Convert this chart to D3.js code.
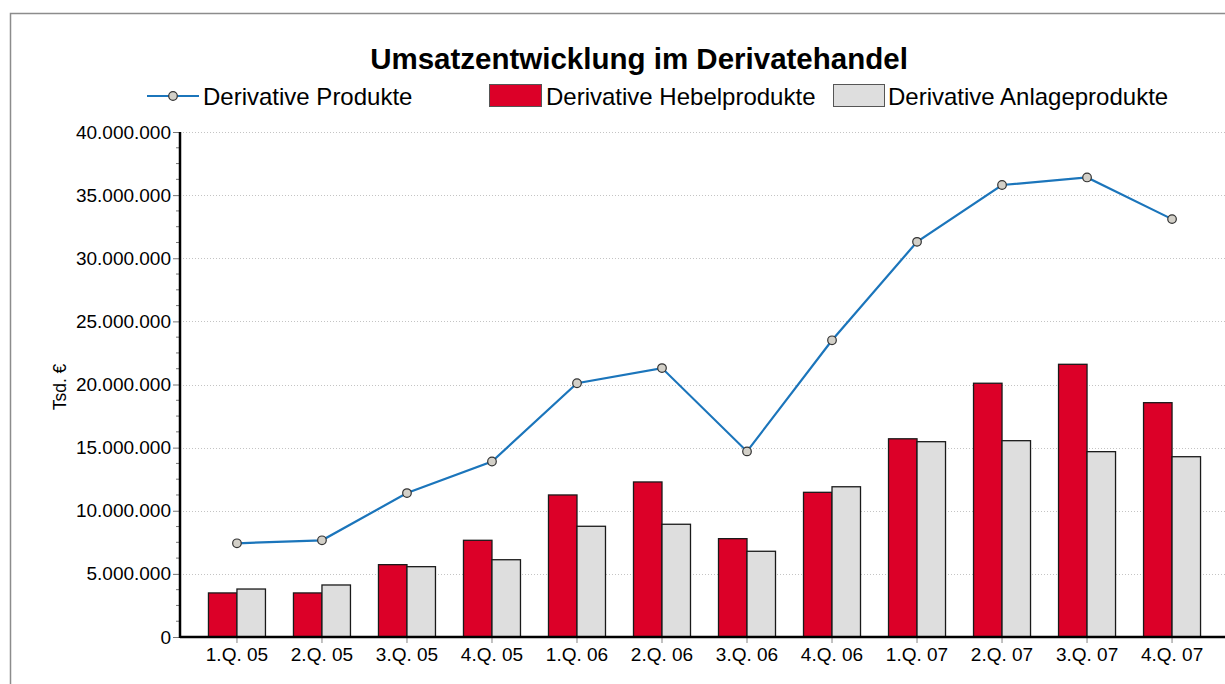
<!DOCTYPE html>
<html>
<head>
<meta charset="utf-8">
<script src="https://cdn.jsdelivr.net/npm/d3@7"></script>
<style>
  body { margin: 0; background: #fff; }
  text { font-family: "Liberation Sans", Arial, sans-serif; fill: #000; }
</style>
</head>
<body>
<svg id="chart" width="1225" height="684"></svg>
<script>
// quarters and values (Tsd. €)
const categories = ["1.Q. 05", "2.Q. 05", "3.Q. 05", "4.Q. 05", "1.Q. 06", "2.Q. 06",
                    "3.Q. 06", "4.Q. 06", "1.Q. 07", "2.Q. 07", "3.Q. 07", "4.Q. 07"];
const produkte = [7420000, 7660000, 11400000, 13900000, 20100000, 21300000,
                  14700000, 23500000, 31300000, 35800000, 36400000, 33100000];
const hebel = [3490000, 3490000, 5730000, 7660000, 11250000, 12280000,
               7790000, 11460000, 15700000, 20100000, 21600000, 18560000];
const anlage = [3800000, 4120000, 5570000, 6120000, 8770000, 8930000,
                6790000, 11900000, 15470000, 15550000, 14680000, 14280000];
const yTicks = [0, 5000000, 10000000, 15000000, 20000000, 25000000, 30000000, 35000000, 40000000];
const seriesNames = ["Derivative Produkte", "Derivative Hebelprodukte", "Derivative Anlageprodukte"];

const RED = "#dc0028";
const GREY = "#dedede";
const BLUE = "#1b75bb";

const svg = d3.select("#chart");
const de = d3.formatLocale({decimal: ",", thousands: ".", grouping: [3], currency: ["", "€"]});
const fmt = de.format(",.0f");

// frame
svg.append("rect")
    .attr("x", 10.5).attr("y", 13.5)
    .attr("width", 1300).attr("height", 800)
    .attr("fill", "none").attr("stroke", "#8c8c8c").attr("stroke-width", 1.5);

const plotLeft = 180, plotBottom = 637, plotTop = 132;

const y = d3.scaleLinear().domain([0, 40000000]).range([plotBottom, plotTop]);
const x = d3.scaleBand().domain(categories).range([plotLeft, 1229])
    .paddingInner(0).paddingOuter(0.17);
const xs = d3.scaleBand().domain(["hebel", "anlage"]).range([0, 57]);
const off = (x.bandwidth() - 57) / 2;

// gridlines
svg.append("g").selectAll("line")
    .data(yTicks.filter(d => d > 0))
    .join("line")
    .attr("x1", plotLeft).attr("x2", 1225)
    .attr("y1", d => Math.round(y(d)) + 0.5).attr("y2", d => Math.round(y(d)) + 0.5)
    .attr("stroke", "#c4c4c4").attr("stroke-width", 1).attr("stroke-dasharray", "1,2");

// minor ticks
const minor = d3.range(0, 40000001, 1250000).filter(d => d % 5000000 !== 0);
svg.append("g").selectAll("line")
    .data(minor)
    .join("line")
    .attr("x1", plotLeft - 4).attr("x2", plotLeft)
    .attr("y1", d => y(d)).attr("y2", d => y(d))
    .attr("stroke", "#777").attr("stroke-width", 1);

// y axis
const yAxis = svg.append("g")
    .attr("transform", "translate(" + plotLeft + ",0)")
    .call(d3.axisLeft(y).tickValues(yTicks).tickFormat(fmt).tickSize(7).tickPadding(2));
yAxis.select(".domain").remove();
yAxis.selectAll(".tick line").attr("stroke", "#777");
yAxis.selectAll(".tick text").style("font-size", "19px").attr("fill", "#000");

svg.append("text")
    .attr("transform", "translate(66," + 387 + ") rotate(-90)")
    .attr("text-anchor", "middle")
    .style("font-size", "17.5px")
    .text("Tsd. €");

// bars
const groups = svg.append("g").selectAll("g")
    .data(categories)
    .join("g")
    .attr("transform", d => "translate(" + (x(d) + off) + ",0)");

groups.append("rect")
    .attr("x", xs("hebel"))
    .attr("y", (d, i) => y(hebel[i]))
    .attr("width", xs.bandwidth())
    .attr("height", (d, i) => plotBottom - y(hebel[i]))
    .attr("fill", RED).attr("stroke", "#1a1a1a").attr("stroke-width", 1.3);

groups.append("rect")
    .attr("x", xs("anlage"))
    .attr("y", (d, i) => y(anlage[i]))
    .attr("width", xs.bandwidth())
    .attr("height", (d, i) => plotBottom - y(anlage[i]))
    .attr("fill", GREY).attr("stroke", "#1a1a1a").attr("stroke-width", 1.3);

// axes lines
const xAxis = svg.append("g")
    .attr("transform", "translate(0," + plotBottom + ")")
    .call(d3.axisBottom(x).tickSize(6).tickPadding(5));
xAxis.select(".domain").remove();
xAxis.selectAll(".tick line").attr("stroke", "#999").attr("stroke-width", 1.2);
xAxis.selectAll(".tick text").style("font-size", "19px").attr("fill", "#000");

svg.append("line").attr("x1", plotLeft).attr("x2", 1225).attr("y1", plotBottom).attr("y2", plotBottom)
    .attr("stroke", "#000").attr("stroke-width", 2.5);
svg.append("line").attr("x1", plotLeft).attr("x2", plotLeft).attr("y1", plotTop).attr("y2", plotBottom + 1)
    .attr("stroke", "#000").attr("stroke-width", 2.5);

// line series
const cx = d => x(d) + x.bandwidth() / 2;
const line = d3.line().x(d => cx(d)).y((d, i) => y(produkte[i]));
svg.append("path")
    .datum(categories)
    .attr("d", line)
    .attr("fill", "none").attr("stroke", BLUE).attr("stroke-width", 2.2);
svg.append("g").selectAll("circle")
    .data(categories)
    .join("circle")
    .attr("cx", cx).attr("cy", (d, i) => y(produkte[i]))
    .attr("r", 4.3)
    .attr("fill", "#d3d0c8").attr("stroke", "#333").attr("stroke-width", 1.2);

// title
svg.append("text")
    .attr("x", 639).attr("y", 69)
    .attr("text-anchor", "middle")
    .style("font-size", "29.5px").style("font-weight", "bold")
    .text("Umsatzentwicklung im Derivatehandel");

// legend
const lg = svg.append("g").style("font-size", "24px");
lg.append("line").attr("x1", 147).attr("x2", 199).attr("y1", 96).attr("y2", 96)
    .attr("stroke", BLUE).attr("stroke-width", 2.2);
lg.append("circle").attr("cx", 173).attr("cy", 96).attr("r", 4.3)
    .attr("fill", "#d3d0c8").attr("stroke", "#333").attr("stroke-width", 1.2);
lg.append("text").attr("x", 203).attr("y", 105).text(seriesNames[0]);

lg.append("rect").attr("x", 489.5).attr("y", 84.5).attr("width", 52).attr("height", 22)
    .attr("fill", RED).attr("stroke", "#555").attr("stroke-width", 1);
lg.append("text").attr("x", 546).attr("y", 105).text(seriesNames[1]);

lg.append("rect").attr("x", 833.5).attr("y", 84.5).attr("width", 51).attr("height", 22)
    .attr("fill", GREY).attr("stroke", "#555").attr("stroke-width", 1);
lg.append("text").attr("x", 888).attr("y", 105).text(seriesNames[2]);
</script>
</body>
</html>
